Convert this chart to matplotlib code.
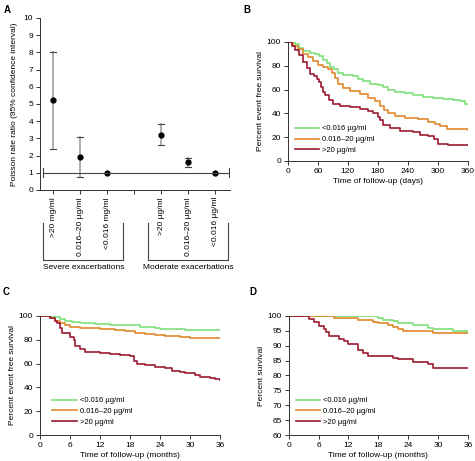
import numpy as np
import matplotlib
matplotlib.use("Agg")
import matplotlib.pyplot as plt

plt.rcParams['font.family'] = ['Liberation Sans', 'DejaVu Sans']
plt.rcParams['font.size'] = 6

# ---- panel A data ----
a_labels = ['>20 mg/ml', '0.016\u201320 \u00b5g/ml', '<0.016 mg/ml', '',
            '>20 \u00b5g/ml', '0.016\u201320 \u00b5g/ml', '<0.016 \u00b5g/ml']
a_pos = [1, 2, 3, 5, 6, 7]
a_rr = [5.25, 1.9, 1.0, 3.22, 1.6, 1.0]
a_lo = [2.4, 0.78, 1.0, 2.62, 1.35, 1.0]
a_hi = [8.05, 3.1, 1.0, 3.82, 1.85, 1.0]
groups = ['Severe exacerbations', 'Moderate exacerbations']

series = ['<0.016 \u00b5g/ml', '0.016\u201320 \u00b5g/ml', '>20 \u00b5g/ml']
colors = ['#7ee07a', '#e0892c', '#9b1a30']

# ---- panel B (days) ----
b_t = {
    0: [0, 15, 22, 30, 45, 55, 62, 70, 78, 85, 92, 100, 110, 130, 140, 150, 165, 180, 190, 200,
        215, 235, 250, 270, 290, 310, 330, 345, 355, 360],
    1: [0, 10, 20, 30, 40, 50, 60, 70, 80, 88, 95, 100, 110, 125, 145, 160, 175, 185, 192, 200,
        215, 235, 260, 280, 295, 305, 318, 360],
    2: [0, 8, 15, 22, 30, 38, 45, 52, 58, 62, 66, 70, 75, 82, 90, 105, 125, 145, 160, 170, 180,
        185, 190, 205, 225, 250, 265, 280, 292, 300, 320, 360],
}
b_s = {
    0: [100, 98, 95, 92, 91, 90, 88, 85, 82, 79, 77, 74, 72, 71, 69, 67, 65, 64, 62, 60,
        58, 57, 55, 54, 53, 52, 51, 50, 48, 48],
    1: [100, 97, 94, 90, 87, 84, 81, 79, 77, 74, 70, 65, 61, 59, 56, 53, 50, 46, 43, 40,
        38, 36, 35, 33, 31, 29, 27, 26],
    2: [100, 97, 93, 89, 83, 78, 73, 71, 69, 66, 62, 58, 55, 51, 48, 46, 45, 44, 42, 40, 37,
        34, 30, 28, 25, 24, 22, 21, 18, 14, 13, 13],
}

# ---- panel C (months) ----
c_t = {
    0: [0, 3, 4, 5, 6.5, 8, 11, 14, 17, 20, 23, 24, 29, 32, 36],
    1: [0, 2, 3, 4, 5, 6, 8, 12, 15, 17, 19, 21, 23, 25, 28, 30, 36],
    2: [0, 2, 3, 3.5, 4, 4.5, 6, 6.8, 7, 8, 9, 12, 14, 16, 18, 18.8, 19.5, 21, 23, 25, 26.5, 28,
        29, 31, 32, 34, 35, 36],
}
c_s = {
    0: [100, 99, 97, 96, 95, 94, 93, 92.5, 92, 91, 90, 89, 88.5, 88, 88],
    1: [100, 98, 96, 94, 92, 91, 90, 89, 88, 87, 86, 85, 84, 83, 82, 81, 81],
    2: [100, 98, 96, 94, 90, 86, 82, 80, 75, 72, 70, 69, 68, 67, 66, 62, 60, 59, 57, 56, 54, 53,
        52, 50, 49, 48, 47, 46],
}

# ---- panel D (months) ----
d_t = {
    0: [0, 18, 19, 21, 22, 25, 28, 29, 33, 36],
    1: [0, 9, 14, 17, 18, 20, 21, 22, 23, 29, 36],
    2: [0, 4, 5, 6, 7, 7.5, 8, 10, 11, 12, 14, 15, 16, 21, 22, 25, 28, 29, 36],
}
d_s = {
    0: [100, 99.3, 98.6, 98.2, 97.5, 97, 96, 95.5, 95, 94.6],
    1: [100, 99.4, 98.6, 98, 97.6, 97, 96.4, 95.6, 95, 94.4, 94.3],
    2: [100, 99, 98, 96.5, 95.5, 94.5, 93.2, 92.3, 91.4, 90.4, 88.5, 87.5, 86.6, 86, 85.5, 84.6,
        83.8, 82.6, 82.6],
}

fig = plt.figure(figsize=(4.75, 4.61), dpi=100)

def style(ax):
    for s in ['top', 'right']:
        ax.spines[s].set_visible(False)
    for s in ['left', 'bottom']:
        ax.spines[s].set_linewidth(0.7)
        ax.spines[s].set_color('#333333')
    ax.tick_params(length=3, width=0.7, labelsize=6, pad=2, color='#333333')

# Panel A
axA = fig.add_axes([0.084, 0.588, 0.40, 0.373])
style(axA)
for x, r, lo, hi in zip(a_pos, a_rr, a_lo, a_hi):
    if hi > lo:
        axA.plot([x, x], [lo, hi], color='#a0a0a0', lw=1.2)
        axA.plot([x - 0.11, x + 0.11], [lo, lo], color='#444444', lw=0.8)
        axA.plot([x - 0.11, x + 0.11], [hi, hi], color='#444444', lw=0.8)
axA.plot(a_pos, a_rr, 'o', color='black', ms=3.5)
axA.plot([0.62, 7.5], [1, 1], color='#444444', lw=0.8)
axA.plot([0.62, 0.62], [0.75, 1.25], color='#444444', lw=0.8)
axA.plot([7.5, 7.5], [0.75, 1.25], color='#444444', lw=0.8)
axA.set_xlim(0.5, 7.55)
axA.set_ylim(0, 10)
axA.set_yticks(range(0, 11))
axA.set_xticks(range(1, 8))
axA.set_xticklabels(a_labels, rotation=90, ha='center', va='top')
axA.set_ylabel('Poisson rate ratio (95% confidence interval)', fontsize=6, labelpad=4)
for (x0, x1), g in zip([(0.62, 3.6), (4.52, 7.48)], groups):
    axA.plot([x0, x0, x1, x1], [-1.95, -4.05, -4.05, -1.95], color='#444444', lw=0.8,
             clip_on=False)
    axA.text((x0 + x1) / 2, -4.3, g, ha='center', va='top', fontsize=6)

def km(ax, T, S, xmax, xt, ylim, yt, xlabel, ylabel, legpos):
    style(ax)
    for i in range(3):
        ax.plot(T[i], S[i], drawstyle='steps-post', color=colors[i], lw=1.2,
                label=series[i])
    ax.set_xlim(0, xmax)
    ax.set_ylim(*ylim)
    ax.set_xticks(xt)
    ax.set_yticks(yt)
    ax.set_xlabel(xlabel, fontsize=6, labelpad=2)
    ax.set_ylabel(ylabel, fontsize=6, labelpad=2)
    ax.legend(loc='lower left', bbox_to_anchor=legpos, frameon=False, fontsize=5.5,
              handlelength=3.2, handletextpad=0.4, labelspacing=0.45)

axB = fig.add_axes([0.606, 0.651, 0.379, 0.258])
km(axB, b_t, b_s, 360, range(0, 361, 60), (0, 100), range(0, 101, 20),
   'Time of follow-up (days)', 'Percent event free survival', (0.0, 0.0))

axC = fig.add_axes([0.084, 0.056, 0.379, 0.259])
km(axC, c_t, c_s, 36, range(0, 37, 6), (0, 100), range(0, 101, 20),
   'Time of follow-up (months)', 'Percent event free survival', (0.03, 0.02))

axD = fig.add_axes([0.608, 0.056, 0.377, 0.259])
km(axD, d_t, d_s, 36, range(0, 37, 6), (60, 100), range(60, 101, 5),
   'Time of follow-up (months)', 'Percent survival', (0.0, 0.02))

for lab, x, y in [('A', 0.008, 0.99), ('B', 0.512, 0.99), ('C', 0.006, 0.378),
                  ('D', 0.525, 0.378)]:
    fig.text(x, y, lab, fontsize=7, fontweight='bold', va='top')

fig.savefig('out.png', dpi=100)
